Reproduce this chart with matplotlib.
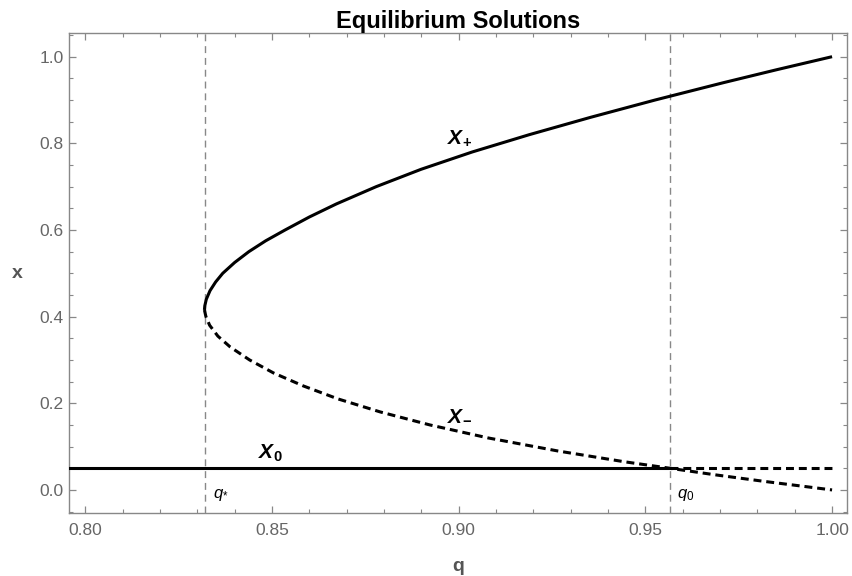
import matplotlib
matplotlib.use("Agg")
import matplotlib.pyplot as plt
import matplotlib.ticker as ticker

plt.rcParams['font.family'] = ['Liberation Sans', 'DejaVu Sans']
plt.rcParams['mathtext.fontset'] = 'custom'
plt.rcParams['mathtext.rm'] = 'Liberation Sans'
plt.rcParams['mathtext.it'] = 'Liberation Sans:italic'
plt.rcParams['mathtext.bf'] = 'Liberation Sans:bold'
plt.rcParams['mathtext.bfit'] = 'Liberation Sans:bold:italic'

# values
q_star = 0.832
q_zero = 0.9566
x_zero = 0.05

# upper branch X+ (stable, solid)
q_up = [0.8319, 0.8320, 0.8324, 0.8334, 0.8349, 0.8368, 0.8400, 0.8438, 0.8483,
        0.8535, 0.8600, 0.8672, 0.8779, 0.8899, 0.9036, 0.9189, 0.9353, 0.9526,
        0.9709, 0.9852, 1.0000]
x_up = [0.4154, 0.425, 0.44, 0.46, 0.48, 0.50, 0.525, 0.55, 0.575,
        0.60, 0.63, 0.66, 0.70, 0.74, 0.78, 0.82, 0.86, 0.90,
        0.94, 0.97, 1.00]

# lower branch X- (unstable, dashed)
q_lo = [0.8319, 0.8323, 0.8333, 0.8355, 0.8388, 0.8440, 0.8504, 0.8584, 0.8677,
        0.8790, 0.8923, 0.9079, 0.9265, 0.9444, 0.9566, 0.9686, 0.9816, 1.0000]
x_lo = [0.4154, 0.400, 0.380, 0.355, 0.330, 0.300, 0.270, 0.240, 0.210,
        0.180, 0.150, 0.120, 0.090, 0.065, 0.050, 0.035, 0.020, 0.000]

# X0 branch: solid up to q0, dashed after
q_x0_solid = [0.79, q_zero]
q_x0_dash = [q_zero, 1.0]

fig = plt.figure(figsize=(8.52, 5.76), dpi=100)
ax = fig.add_axes([0.0813, 0.1088, 0.9124, 0.8334])

grey = '#888888'
lblgrey = '#666666'

ax.axvline(q_star, color=grey, lw=1.0, dashes=(5, 3.5), zorder=1)
ax.axvline(q_zero, color=grey, lw=1.0, dashes=(5, 3.5), zorder=1)

ax.plot(q_up, x_up, color='black', lw=2.2, solid_capstyle='butt', zorder=3)
ax.plot(q_lo, x_lo, color='black', lw=2.2, dashes=(2.6, 1.6), zorder=3)
ax.plot(q_x0_solid, [x_zero, x_zero], color='black', lw=2.2, zorder=3)
ax.plot(q_x0_dash, [x_zero, x_zero], color='black', lw=2.2, dashes=(2.6, 1.6), zorder=3)

# branch labels
ax.text(0.8968, 0.7985, r'$\mathbfit{X}_{\mathbf{+}}$', fontsize=15, ha='left', va='baseline')
ax.text(0.8968, 0.1615, r'$\mathbfit{X}_{\mathbf{-}}$', fontsize=15, ha='left', va='baseline')
ax.text(0.8463, 0.0715, r'$\mathbfit{X}_{\mathbf{0}}$', fontsize=15, ha='left', va='baseline')
ax.text(0.8343, -0.012, r'$q_{*}$', fontsize=12, ha='left', va='center')
ax.text(0.9585, -0.012, r'$q_{0}$', fontsize=12, ha='left', va='center')

ax.set_xlim(0.7957, 1.0039)
ax.set_ylim(-0.054, 1.054)

ax.xaxis.set_major_locator(ticker.MultipleLocator(0.05))
ax.xaxis.set_minor_locator(ticker.MultipleLocator(0.01))
ax.yaxis.set_major_locator(ticker.MultipleLocator(0.2))
ax.yaxis.set_minor_locator(ticker.MultipleLocator(0.05))
ax.xaxis.set_major_formatter(ticker.FormatStrFormatter('%.2f'))
ax.yaxis.set_major_formatter(ticker.FormatStrFormatter('%.1f'))

ax.tick_params(which='both', direction='in', top=True, right=True, color=grey,
               labelcolor=lblgrey, labelsize=12.5)
ax.tick_params(which='major', length=5, width=0.9)
ax.tick_params(which='minor', length=3, width=0.8)
ax.tick_params(axis='x', pad=7)
ax.tick_params(axis='y', pad=4)
for s in ax.spines.values():
    s.set_color(grey)
    s.set_linewidth(1.0)

ax.set_xlabel('q', fontsize=14, fontweight='bold', color='#555555', va='center')
ax.xaxis.set_label_coords(0.5, -0.11)
ax.set_ylabel('x', fontsize=14, fontweight='bold', color='#555555', rotation=0,
              va='center', ha='center')
ax.yaxis.set_label_coords(-0.0666, 0.5)

ax.set_title('Equilibrium Solutions', fontsize=17, fontweight='bold', pad=4)

fig.savefig('out.png', dpi=100)
